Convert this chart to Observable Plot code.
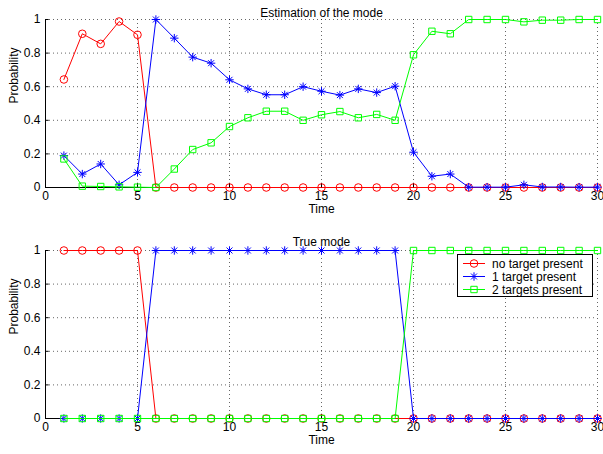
<!DOCTYPE html>
<html>
<head>
<meta charset="utf-8">
<script src="https://cdn.jsdelivr.net/npm/d3@7"></script>
<script src="https://cdn.jsdelivr.net/npm/@observablehq/plot@0.6"></script>
<style>
  body { margin: 0; background: #fff; }
  #wrap { position: relative; width: 603px; height: 454px; font-family: "Liberation Sans", Arial, sans-serif; }
  #top, #bottom { position: absolute; left: 0; }
  #top { top: 0; }
  #bottom { top: 227px; }
  #legend { position: absolute; left: 457px; top: 254px; width: 134px; height: 41px; border: 1px solid #000; background: #fff; font-size: 12px; }
  .row { position: absolute; left: 0; height: 13px; display: flex; align-items: center; }
  .row svg { margin-left: 5px; }
  .row span { margin-left: 7px; }
</style>
</head>
<body>
<div id="wrap">
  <div id="top"></div>
  <div id="bottom"></div>
  <div id="legend"></div>
</div>
<script>
const time = [1,2,3,4,5,6,7,8,9,10,11,12,13,14,15,16,17,18,19,20,21,22,23,24,25,26,27,28,29,30];
const seriesNames = ["no target present", "1 target present", "2 targets present"];
const seriesColors = ["#ff0000", "#0000ff", "#00ff00"];
const xTicks = [0,5,10,15,20,25,30];
const yTicks = [0,0.2,0.4,0.6,0.8,1];

const estNone = [0.643,0.915,0.855,0.988,0.909,0,0,0,0,0,0,0,0,0,0,0,0,0,0,0,0,0,0,0,0,0,0,0,0,0];
const estOne  = [0.19,0.08,0.14,0.016,0.09,1.0,0.889,0.776,0.74,0.641,0.587,0.552,0.552,0.60,0.573,0.55,0.587,0.565,0.603,0.21,0.067,0.08,0.002,0.002,0.002,0.016,0.003,0.003,0.002,0.002];
const estTwo  = [0.17,0.008,0.006,0.004,0.002,0,0.11,0.226,0.266,0.363,0.415,0.454,0.454,0.40,0.433,0.452,0.415,0.435,0.40,0.79,0.93,0.915,1,1,1,0.986,0.996,0.996,1,1];

const trueNone = [1,1,1,1,1,0,0,0,0,0,0,0,0,0,0,0,0,0,0,0,0,0,0,0,0,0,0,0,0,0];
const trueOne  = [0,0,0,0,0,1,1,1,1,1,1,1,1,1,1,1,1,1,1,0,0,0,0,0,0,0,0,0,0,0];
const trueTwo  = [0,0,0,0,0,0,0,0,0,0,0,0,0,0,0,0,0,0,0,1,1,1,1,1,1,1,1,1,1,1];

// Matlab-style 8-arm asterisk
const asterisk8 = {
  draw(ctx, size) {
    const r = Math.sqrt(size / Math.PI);
    const d = r * Math.SQRT1_2;
    ctx.moveTo(-r, 0); ctx.lineTo(r, 0);
    ctx.moveTo(0, -r); ctx.lineTo(0, r);
    ctx.moveTo(-d, -d); ctx.lineTo(d, d);
    ctx.moveTo(-d, d); ctx.lineTo(d, -d);
  }
};
const symbols = ["circle", asterisk8, "square"];
const radii = [3.8, 4.2, 3.6];

function panel(title, arrays, opts) {
  const marks = [
    Plot.gridX(xTicks, {stroke: "#000", strokeOpacity: 0.6, strokeDasharray: "1,3"}),
    Plot.gridY(yTicks, {stroke: "#000", strokeOpacity: 0.6, strokeDasharray: "1,3"}),
    Plot.axisX(xTicks, {tickSize: 0, tickPadding: 4, label: null, fontSize: 12}),
    Plot.axisY(yTicks, {tickSize: 0, tickPadding: 5, label: null, fontSize: 12, tickFormat: d => String(d)}),
    Plot.ruleX(xTicks, {y1: 0, y2: 0.025, stroke: "#000"}),
    Plot.ruleY(yTicks, {x1: 0, x2: 0.2, stroke: "#000"}),
    Plot.ruleX([0], {stroke: "#000"}),
    Plot.ruleY([0], {stroke: "#000"}),
    Plot.text(["Time"], {frameAnchor: "bottom", dy: 25, fontSize: 12, fill: "#000"}),
    Plot.text(["Probability"], {frameAnchor: "left", dx: -31, rotate: -90, fontSize: 12, fill: "#000"})
  ];
  arrays.forEach((vals, i) => {
    const data = time.map((t, j) => ({t, v: vals[j]}));
    marks.push(Plot.line(data, {x: "t", y: "v", stroke: seriesColors[i], strokeWidth: 1}));
    marks.push(Plot.dot(data, {x: "t", y: "v", stroke: seriesColors[i], fill: "none", symbol: symbols[i], r: radii[i], strokeWidth: 1}));
  });
  marks.push(Plot.text([title], {frameAnchor: "top", dy: opts.titleDy, fontSize: 12, fill: "#000"}));
  return Plot.plot({
    width: 603,
    height: 227,
    marginLeft: 45,
    marginRight: 6,
    marginTop: opts.marginTop,
    marginBottom: opts.marginBottom,
    x: {domain: [0, 30]},
    y: {domain: [0, 1]},
    style: {fontFamily: "Liberation Sans, Arial, sans-serif", fontSize: "12px", color: "#000", background: "transparent", overflow: "visible"},
    marks
  });
}

document.getElementById("top").appendChild(panel("Estimation of the mode", [estNone, estOne, estTwo], {marginTop: 19, marginBottom: 40, titleDy: -11}));
document.getElementById("bottom").appendChild(panel("True mode", [trueNone, trueOne, trueTwo], {marginTop: 23, marginBottom: 36, titleDy: -13}));

// legend
const legend = document.getElementById("legend");
seriesNames.forEach((name, i) => {
  const row = document.createElement("div");
  row.className = "row";
  row.style.top = (2 + i * 13) + "px";
  const svg = d3.create("svg").attr("width", 22).attr("height", 13);
  svg.append("line").attr("x1", 0).attr("x2", 22).attr("y1", 6.5).attr("y2", 6.5).attr("stroke", seriesColors[i]);
  const sym = d3.symbol().type(i === 0 ? d3.symbolCircle : i === 1 ? asterisk8 : d3.symbolSquare).size(Math.PI * radii[i] * radii[i]);
  svg.append("path").attr("d", sym()).attr("transform", "translate(11,6.5)").attr("fill", "none").attr("stroke", seriesColors[i]);
  row.appendChild(svg.node());
  const span = document.createElement("span");
  span.textContent = name;
  row.appendChild(span);
  legend.appendChild(row);
});
</script>
</body>
</html>
